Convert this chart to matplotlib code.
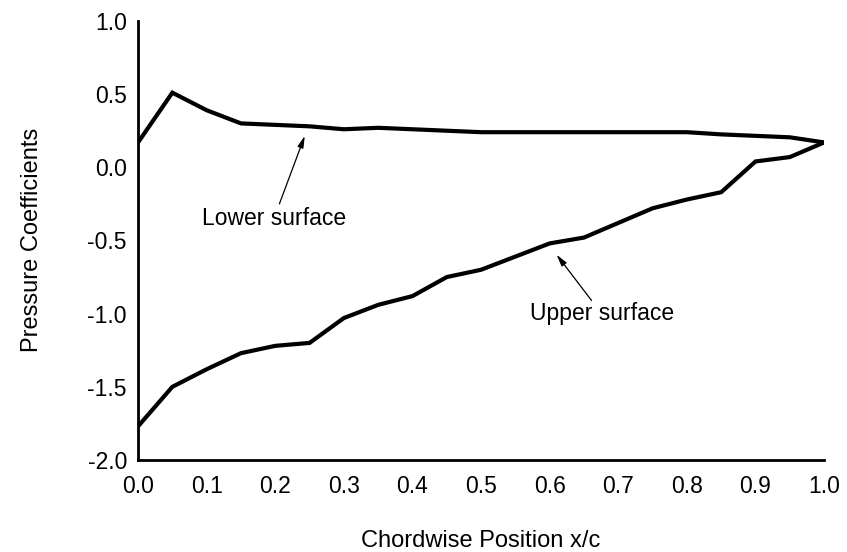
import matplotlib
matplotlib.use("Agg")
import matplotlib.pyplot as plt

# Chordwise stations and pressure coefficients on both surfaces
x_c = [0.00, 0.05, 0.10, 0.15, 0.20, 0.25, 0.30, 0.35, 0.40, 0.45, 0.50,
       0.55, 0.60, 0.65, 0.70, 0.75, 0.80, 0.85, 0.90, 0.95, 1.00]
cp_lower = [0.17, 0.51, 0.39, 0.30, 0.29, 0.28, 0.26, 0.27, 0.26, 0.25, 0.24,
            0.24, 0.24, 0.24, 0.24, 0.24, 0.24, 0.225, 0.215, 0.205, 0.17]
cp_upper = [-1.77, -1.50, -1.38, -1.27, -1.22, -1.20, -1.03, -0.94, -0.88, -0.75, -0.70,
            -0.61, -0.52, -0.48, -0.38, -0.28, -0.22, -0.17, 0.04, 0.07, 0.17]
x_ticks = [0.0, 0.1, 0.2, 0.3, 0.4, 0.5, 0.6, 0.7, 0.8, 0.9, 1.0]
y_ticks = [-2.0, -1.5, -1.0, -0.5, 0.0, 0.5, 1.0]

plt.rcParams["font.family"] = ["Liberation Sans", "DejaVu Sans"]
FS = 16.5
FS_LABEL = 17

fig = plt.figure(figsize=(8.47, 5.52), dpi=100)
ax = fig.add_axes([0.163, 0.1667, 0.810, 0.7953])

ax.plot(x_c, cp_lower, color="black", lw=3.0, solid_joinstyle="miter")
ax.plot(x_c, cp_upper, color="black", lw=3.0, solid_joinstyle="miter")

ax.set_xlim(0, 1.0)
ax.set_ylim(-2.0, 1.0)
ax.set_xticks(x_ticks)
ax.set_xticklabels([f"{v:.1f}" for v in x_ticks])
ax.set_yticks(y_ticks)
ax.set_yticklabels([f"{v:.1f}" for v in y_ticks])
ax.tick_params(axis="x", length=0, pad=11, labelsize=FS)
ax.tick_params(axis="y", length=0, pad=8, labelsize=FS)

for side in ("top", "right"):
    ax.spines[side].set_visible(False)
for side in ("left", "bottom"):
    ax.spines[side].set_linewidth(2.0)

arrow = dict(arrowstyle="-|>,head_length=0.7,head_width=0.18",
             color="black", lw=0.9, shrinkA=0, shrinkB=0)

ax.annotate("", xy=(0.243, 0.215), xytext=(0.206, -0.25), arrowprops=arrow)
ax.text(0.198, -0.35, "Lower surface", ha="center", va="center", fontsize=FS)

ax.annotate("", xy=(0.610, -0.597), xytext=(0.661, -0.91), arrowprops=arrow)
ax.text(0.677, -1.0, "Upper surface", ha="center", va="center", fontsize=FS)

fig.text(481 / 847, 1 - 541 / 552, "Chordwise Position x/c",
         ha="center", va="center", fontsize=FS_LABEL)
fig.text(32 / 847, 1 - 240 / 552, "Pressure Coefficients",
         ha="center", va="center", rotation=90, fontsize=FS_LABEL)

fig.savefig("out.png", dpi=100, facecolor="white")
